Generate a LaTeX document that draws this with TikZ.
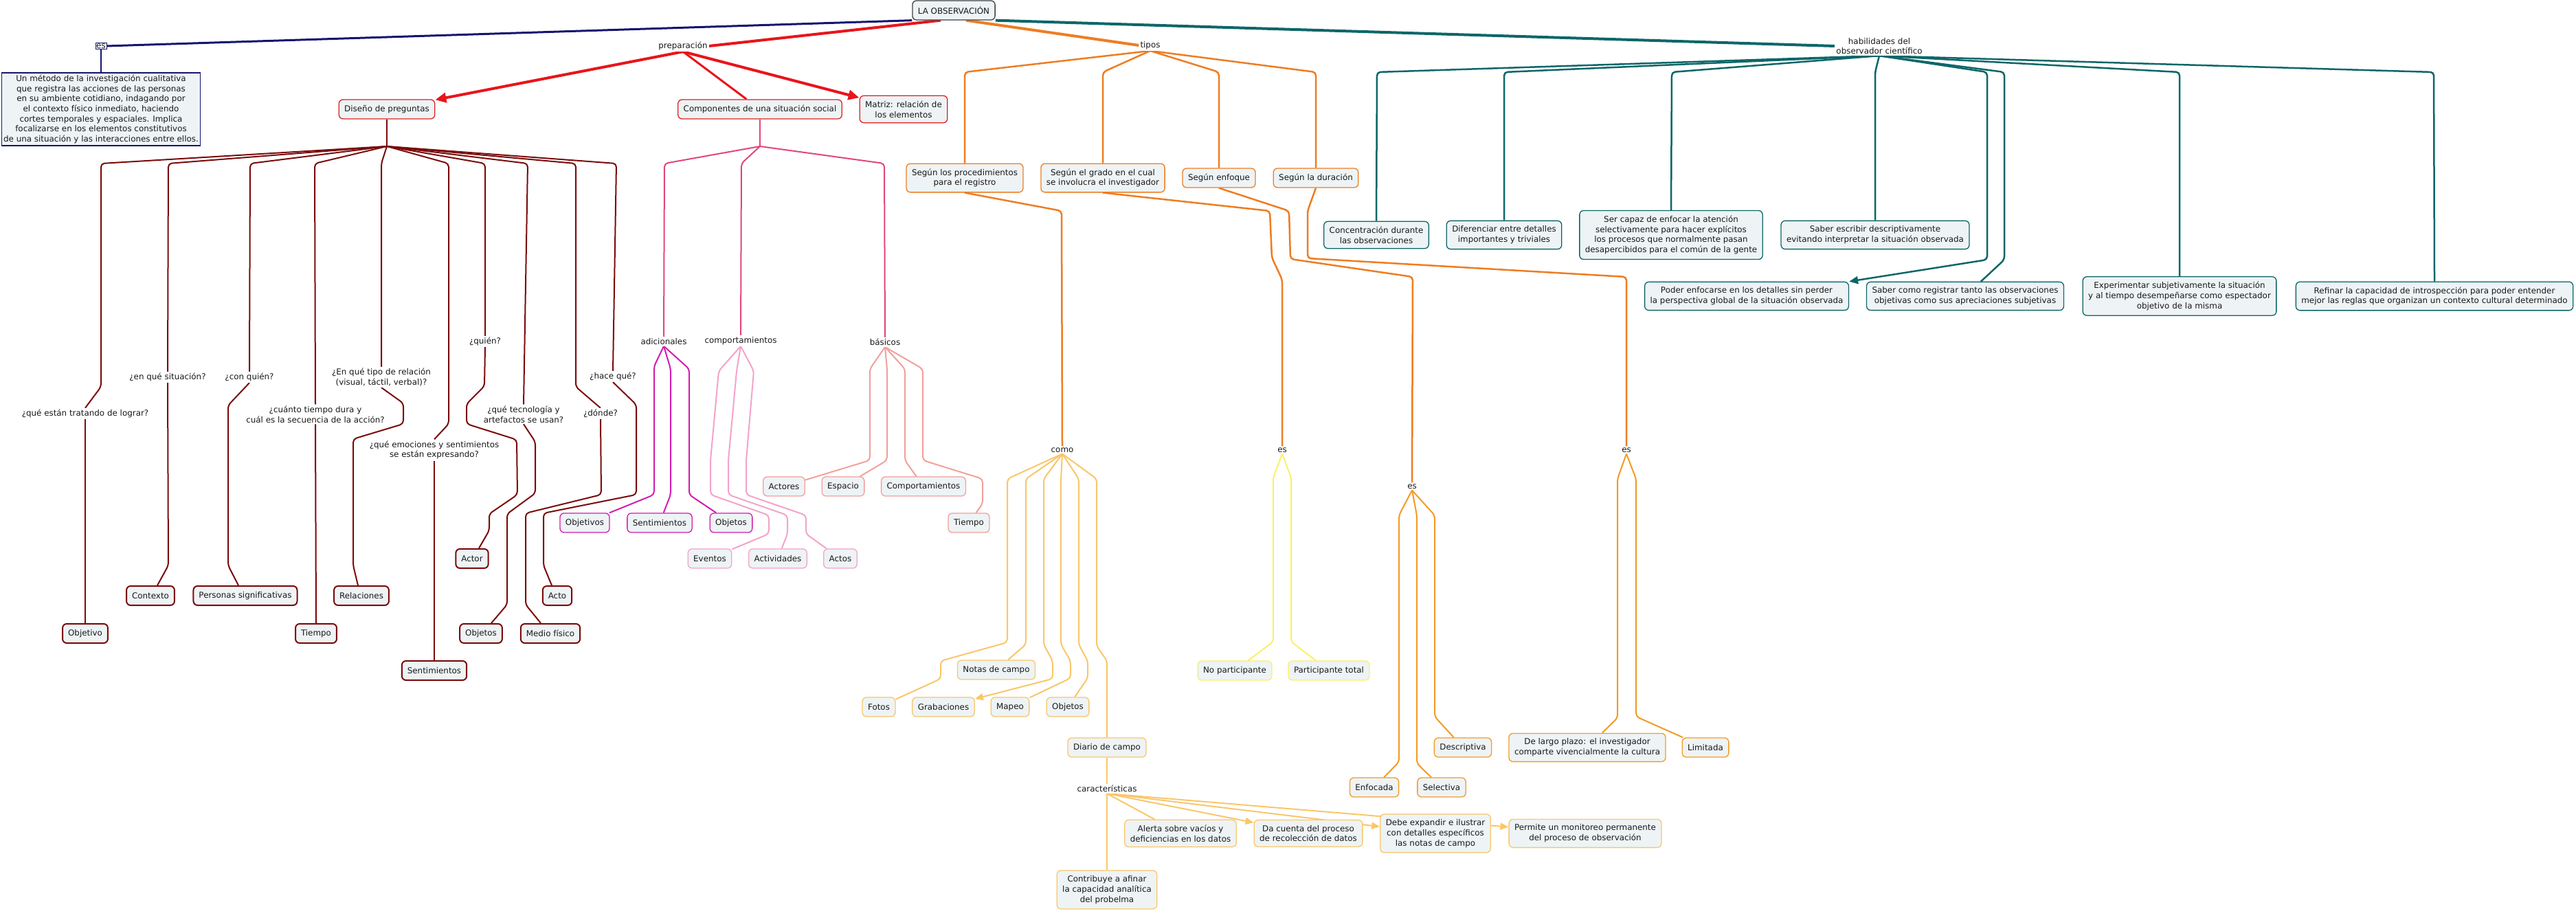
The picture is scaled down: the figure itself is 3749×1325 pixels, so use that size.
\documentclass[tikz,border=0pt]{standalone}
\usepackage{fontspec}
\setmainfont{DejaVu Sans}
\usepackage{tikz}
\usetikzlibrary{positioning,arrows.meta,backgrounds}

\definecolor{boxfill}{HTML}{EEF3F5}
\definecolor{navyline}{HTML}{141470}
\definecolor{prepred}{HTML}{E8151B}
\definecolor{boxred}{HTML}{DC2323}
\definecolor{tipoorange}{HTML}{EE7D22}
\definecolor{habteal}{HTML}{0D6669}
\definecolor{maroonline}{HTML}{7A0B0B}
\definecolor{comppink}{HTML}{E2457E}
\definecolor{adicmag}{HTML}{D21DAE}
\definecolor{comppale}{HTML}{F3A3C8}
\definecolor{basicsal}{HTML}{F1A09C}
\definecolor{comolight}{HTML}{F9C66B}
\definecolor{esyellow}{HTML}{FBEF6A}
\definecolor{esorange}{HTML}{F29B25}

\newcommand{\mapfont}{\fontsize{11.9}{14.7}\selectfont}

\tikzset{
  concept/.style={draw, line width=1.3pt, rounded corners=6pt, fill=boxfill, align=center, font=\mapfont,
    inner xsep=8pt, inner ysep=7.5pt, minimum height=28pt, text=black!90},
  link/.style={align=center, font=\mapfont, inner sep=2pt, fill=white, text=black!90},
  conn/.style={line width=2pt, rounded corners=5pt},
  bigtip/.style={-{Triangle[length=16pt,width=14pt]}},
  smalltip/.style={-{Triangle[length=12pt,width=10pt]}},
}

\begin{document}
\begin{tikzpicture}[x=1pt,y=-1pt]
\useasboundingbox (0,0) rectangle (3749,1325);

% raiz
\node[concept, draw=black!75] (obs) at (1388,15) {LA OBSERVACIÓN};

\node[link, draw=navyline, inner sep=1pt] (esl) at (147,67) {es};
\node[concept, draw=navyline, rounded corners=0pt, inner sep=3pt] (desc) at (147,159)
  {Un método de la investigación cualitativa\\que registra las acciones de las personas\\en su ambiente cotidiano, indagando por\\el contexto físico inmediato, haciendo\\cortes temporales y espaciales. Implica\\focalizarse en los elementos constitutivos\\de una situación y las interacciones entre ellos.};

\node[link] (prep) at (994,67) {preparación};
\node[link] (tipos) at (1674,66) {tipos};
\node[link] (hab) at (2735,67) {habilidades del\\observador científico};

% preparacion
\node[concept, draw=boxred] (diseno) at (563,159) {Diseño de preguntas};
\node[concept, draw=boxred] (comp) at (1106,159) {Componentes de una situación social};
\node[concept, draw=boxred] (matriz) at (1315,159) {Matriz: relación de\\los elementos};

% tipos
\node[concept, draw=tipoorange] (proc) at (1404,259) {Según los procedimientos\\para el registro};
\node[concept, draw=tipoorange] (grado) at (1605,259) {Según el grado en el cual\\se involucra el investigador};
\node[concept, draw=tipoorange] (enfoque) at (1774,259) {Según enfoque};
\node[concept, draw=tipoorange] (durac) at (1915,259) {Según la duración};

% habilidades
\node[concept, draw=habteal] (conc) at (2003,342) {Concentración durante\\las observaciones};
\node[concept, draw=habteal] (dif) at (2189,342) {Diferenciar entre detalles\\importantes y triviales};
\node[concept, draw=habteal] (ser) at (2432,342) {Ser capaz de enfocar la atención\\selectivamente para hacer explícitos\\los procesos que normalmente pasan\\desapercibidos para el común de la gente};
\node[concept, draw=habteal] (escr) at (2729,342) {Saber escribir descriptivamente\\evitando interpretar la situación observada};
\node[concept, draw=habteal] (poder) at (2542,431) {Poder enfocarse en los detalles sin perder\\la perspectiva global de la situación observada};
\node[concept, draw=habteal] (reg) at (2860,431) {Saber como registrar tanto las observaciones\\objetivas como sus apreciaciones subjetivas};
\node[concept, draw=habteal] (exper) at (3172,431) {Experimentar subjetivamente la situación\\y al tiempo desempeñarse como espectador\\objetivo de la misma};
\node[concept, draw=habteal] (refin) at (3543,431) {Refinar la capacidad de introspección para poder entender\\mejor las reglas que organizan un contexto cultural determinado};

% diseno de preguntas
\node[link] (q1) at (124,602) {¿qué están tratando de lograr?};
\node[link] (q2) at (244,549) {¿en qué situación?};
\node[link] (q3) at (363,549) {¿con quién?};
\node[link] (q4) at (459,603) {¿cuánto tiempo dura y\\cuál es la secuencia de la acción?};
\node[link] (q5) at (555,549) {¿En qué tipo de relación\\(visual, táctil, verbal)?};
\node[link] (q6) at (632,655) {¿qué emociones y sentimientos\\se están expresando?};
\node[link] (q7) at (706,497) {¿quién?};
\node[link] (q8) at (762,603) {¿qué tecnología y\\artefactos se usan?};
\node[link] (q9) at (874,602) {¿dónde?};
\node[link] (q10) at (892,548) {¿hace qué?};

\tikzset{dbox/.style={concept, draw=maroonline, line width=2pt}}
\node[dbox] (objetivo) at (124,922) {Objetivo};
\node[dbox] (contexto) at (219,867) {Contexto};
\node[dbox] (personas) at (357,867) {Personas significativas};
\node[dbox] (tiempo) at (460,922) {Tiempo};
\node[dbox] (relac) at (526,867) {Relaciones};
\node[dbox] (sentim) at (632,976) {Sentimientos};
\node[dbox] (actor) at (687,813) {Actor};
\node[dbox] (acto) at (811,867) {Acto};
\node[dbox] (objd) at (700,922) {Objetos};
\node[dbox] (medio) at (801,922) {Medio físico};

% componentes
\node[link] (adic) at (966,497) {adicionales};
\node[link] (compo) at (1078,496) {comportamientos};
\node[link] (basic) at (1288,498) {básicos};

\node[concept, draw=adicmag] (objv) at (851,761) {Objetivos};
\node[concept, draw=adicmag] (sentv) at (960,761) {Sentimientos};
\node[concept, draw=adicmag] (objm) at (1064,761) {Objetos};
\node[concept, draw=comppale] (event) at (1033,813) {Eventos};
\node[concept, draw=comppale] (activ) at (1132,813) {Actividades};
\node[concept, draw=comppale] (actos) at (1223,813) {Actos};
\node[concept, draw=basicsal] (actores) at (1141,708) {Actores};
\node[concept, draw=basicsal] (espacio) at (1227,708) {Espacio};
\node[concept, draw=basicsal] (comport) at (1344,708) {Comportamientos};
\node[concept, draw=basicsal] (tiempob) at (1410,761) {Tiempo};

% como / es
\node[link] (como) at (1546,655) {como};
\node[link] (es1) at (1866,655) {es};
\node[link] (es2) at (2055,708) {es};
\node[link] (es3) at (2367,655) {es};

\node[concept, draw=comolight] (notas) at (1450,975) {Notas de campo};
\node[concept, draw=comolight] (fotos) at (1279,1029) {Fotos};
\node[concept, draw=comolight] (grab) at (1373,1029) {Grabaciones};
\node[concept, draw=comolight] (mapeo) at (1470,1029) {Mapeo};
\node[concept, draw=comolight] (objc) at (1554,1029) {Objetos};
\node[concept, draw=comolight] (diario) at (1611,1088) {Diario de campo};
\node[link] (caract) at (1611,1148) {características};
\node[concept, draw=comolight] (alerta) at (1718,1213) {Alerta sobre vacíos y\\deficiencias en los datos};
\node[concept, draw=comolight] (cuenta) at (1904,1213) {Da cuenta del proceso\\de recolección de datos};
\node[concept, draw=comolight] (expand) at (2089,1213) {Debe expandir e ilustrar\\con detalles específicos\\las notas de campo};
\node[concept, draw=comolight] (monit) at (2307,1213) {Permite un monitoreo permanente\\del proceso de observación};
\node[concept, draw=comolight] (contrib) at (1611,1295) {Contribuye a afinar\\la capacidad analítica\\del probelma};

\node[concept, draw=esyellow] (nopart) at (1797,976) {No participante};
\node[concept, draw=esyellow] (ptotal) at (1934,976) {Participante total};
\node[concept, draw=esorange] (enfoc) at (2000,1146) {Enfocada};
\node[concept, draw=esorange] (selec) at (2098,1146) {Selectiva};
\node[concept, draw=esorange] (descr) at (2129,1088) {Descriptiva};
\node[concept, draw=esorange] (largo) at (2310,1088) {De largo plazo: el investigador\\comparte vivencialmente la cultura};
\node[concept, draw=esorange] (limit) at (2482,1088) {Limitada};

\begin{scope}[on background layer]
% raiz
\draw[navyline, line width=3pt] (obs.south west) -- (esl.east);
\draw[navyline, line width=1.5pt] (esl.south) -- (desc.north);
\draw[prepred, line width=4pt] ([xshift=-19pt]obs.south) -- (prep.east);
\draw[tipoorange, line width=4pt] ([xshift=18pt]obs.south) -- (tipos.west);
\draw[habteal, line width=4pt] (obs.south east) -- (hab.west);

% preparacion
\draw[prepred, line width=4pt, bigtip] (prep.south) -- (diseno);
\draw[prepred, line width=3pt] (prep.south) -- (comp);
\draw[prepred, line width=4pt, bigtip] (prep.south) -- (matriz);

% tipos
\draw[tipoorange, conn, line width=2.5pt] (tipos.south) -- (1404,105) -- (proc.north);
\draw[tipoorange, conn, line width=2.5pt] (tipos.south) -- (1605,105) -- (grado.north);
\draw[tipoorange, conn, line width=2.5pt] (tipos.south) -- (1774,105) -- (enfoque.north);
\draw[tipoorange, conn, line width=2.5pt] (tipos.south) -- (1915,105) -- (durac.north);
\draw[tipoorange, conn, line width=2.5pt] (proc.south) -- (1545,307) -- (como.north);
\draw[tipoorange, conn, line width=2.5pt] (grado.south) -- (1848,307) -- (1851,375) -- (1866,407) -- (es1.north);
\draw[tipoorange, conn, line width=2.5pt] (enfoque.south) -- (1876,307) -- (1878,377) -- (2056,403) -- (es2.north);
\draw[tipoorange, conn, line width=2.5pt] (durac.south) -- (1903,307) -- (1903,376) -- (2367,403) -- (es3.north);

% habilidades
\draw[habteal, conn, line width=2.5pt] (hab.south) -- (2004,105) -- (conc.north);
\draw[habteal, conn, line width=2.5pt] (hab.south) -- (2189,105) -- (dif.north);
\draw[habteal, conn, line width=2.5pt] (hab.south) -- (2433,105) -- (ser.north);
\draw[habteal, conn, line width=2.5pt] (hab.south) -- (2729,105) -- (escr.north);
\draw[habteal, conn, line width=2.5pt, -{Triangle[length=13pt,width=11pt]}] (hab.south) -- (2892,105) -- (2892,378) -- (poder.north east);
\draw[habteal, conn, line width=2.5pt] (hab.south) -- (2917,105) -- (2917,378) -- (reg);
\draw[habteal, conn, line width=2.5pt] (hab.south) -- (3172,105) -- (exper.north);
\draw[habteal, conn, line width=2.5pt] (hab.south) -- (3542,105) -- (refin.north);

% diseno de preguntas
\coordinate (jd) at (563,213);
\draw[maroonline, conn, line width=2.5pt] (diseno.south) -- (jd);
\draw[maroonline, conn] (jd) -- (147,238) -- (147,563) -- (q1.north);
\draw[maroonline, conn] (q1.south) -- (objetivo.north);
\draw[maroonline, conn] (jd) -- (245,238) -- (q2.north);
\draw[maroonline, conn] (q2.south) -- (245,823) -- ([xshift=10pt]contexto.north);
\draw[maroonline, conn] (jd) -- (364,238) -- (q3.north);
\draw[maroonline, conn] (q3.south) -- (332,590) -- (332,823) -- ([xshift=-10pt]personas.north);
\draw[maroonline, conn] (jd) -- (458,238) -- (q4.north);
\draw[maroonline, conn] (q4.south) -- (tiempo.north);
\draw[maroonline, conn] (jd) -- (555,238) -- (q5.north);
\draw[maroonline, conn] (q5.south) -- (587,587) -- (587,617) -- (514,639) -- (514,823) -- ([xshift=-5pt]relac.north);
\draw[maroonline, conn] (jd) -- (653,238) -- (653,617) -- (q6.north);
\draw[maroonline, conn] (q6.south) -- (sentim.north);
\draw[maroonline, conn] (jd) -- (706,238) -- (q7.north);
\draw[maroonline, conn] (q7.south) -- (705,562) -- (679,588) -- (679,617) -- (752,640) -- (753,720) -- (712,748) -- (712,772) -- ([xshift=10pt]actor.north);
\draw[maroonline, conn] (jd) -- (768,238) -- (q8.north);
\draw[maroonline, conn] (q8.south) -- (779,643) -- (779,718) -- (738,748) -- (738,880) -- ([xshift=15pt]objd.north);
\draw[maroonline, conn] (jd) -- (838,238) -- (838,563) -- (q9.north);
\draw[maroonline, conn] (q9.south) -- (875,720) -- (765,747) -- (765,880) -- ([xshift=-14pt]medio.north);
\draw[maroonline, conn] (jd) -- (897,238) -- (q10.north);
\draw[maroonline, conn] (q10.south) -- (926,589) -- (926,720) -- (791,747) -- (791,823) -- ([xshift=-8pt]acto.north);

% componentes
\coordinate (jc) at (1106,213);
\draw[comppink, conn] (comp.south) -- (jc);
\draw[comppink, conn] (jc) -- (967,238) -- (adic.north);
\draw[comppink, conn] (jc) -- (1079,238) -- (compo.north);
\draw[comppink, conn] (jc) -- (1287,238) -- (basic.north);

\draw[adicmag, conn] (adic.south) -- (952,533) -- (952,720) -- (objv);
\draw[adicmag, conn] (adic.south) -- (976,537) -- (976,720) -- (sentv);
\draw[adicmag, conn] (adic.south) -- (1003,537) -- (1003,720) -- (objm);

\draw[comppale, conn] (compo.south) -- (1046,540) -- (1034,670) -- (1034,720) -- (1119,750) -- (1119,777) -- (event);
\draw[comppale, conn] (compo.south) -- (1072,540) -- (1060,670) -- (1060,720) -- (1146,750) -- (1146,777) -- (activ);
\draw[comppale, conn] (compo.south) -- (1097,540) -- (1086,670) -- (1086,720) -- (1173,750) -- (1173,777) -- (actos);

\draw[basicsal, conn] (basic.south) -- (1266,537) -- (1266,670) -- (actores);
\draw[basicsal, conn] (basic.south) -- (1291,537) -- (1291,670) -- (espacio);
\draw[basicsal, conn] (basic.south) -- (1317,537) -- (1317,670) -- (comport);
\draw[basicsal, conn] (basic.south) -- (1343,537) -- (1343,670) -- (1430,697) -- (1430,733) -- (tiempob);

% como
\draw[comolight, conn] (como.south) -- (1466,697) -- (1466,935) -- (1369,962) -- (1369,988) -- (fotos);
\draw[comolight, conn] (como.south) -- (1493,697) -- (1493,938) -- (notas);
\draw[comolight, conn, smalltip] (como.south) -- (1519,697) -- (1519,938) -- (1532,962) -- (1532,988) -- (grab);
\draw[comolight, conn] (como.south) -- (1544,697) -- (1544,938) -- (1558,962) -- (1558,987) -- (mapeo);
\draw[comolight, conn] (como.south) -- (1570,697) -- (1570,938) -- (1583,962) -- (1583,987) -- (objc);
\draw[comolight, conn] (como.south) -- (1596,697) -- (1596,940) -- (1611,962) -- (diario.north);
\draw[comolight, conn] (diario.south) -- (caract.north);
\draw[comolight, conn] (caract.south) -- (alerta);
\draw[comolight, conn, smalltip] (caract.south) -- (cuenta);
\draw[comolight, conn, smalltip] (caract.south) -- (expand);
\draw[comolight, conn, smalltip] (caract.south) -- (monit);
\draw[comolight, conn] (caract.south) -- (contrib.north);

% es
\draw[esyellow, conn] (es1.south) -- (1853,695) -- (1853,934) -- (nopart);
\draw[esyellow, conn] (es1.south) -- (1879,695) -- (1879,934) -- (ptotal);
\draw[esorange, conn] (es2.south) -- (2036,750) -- (2036,1109) -- (enfoc);
\draw[esorange, conn] (es2.south) -- (2062,750) -- (2062,1111) -- (selec);
\draw[esorange, conn] (es2.south) -- (2088,750) -- (2088,1043) -- (descr);
\draw[esorange, conn] (es3.south) -- (2354,697) -- (2354,1045) -- (largo);
\draw[esorange, conn] (es3.south) -- (2381,697) -- (2381,1043) -- (limit);
\end{scope}
\end{tikzpicture}
\end{document}
